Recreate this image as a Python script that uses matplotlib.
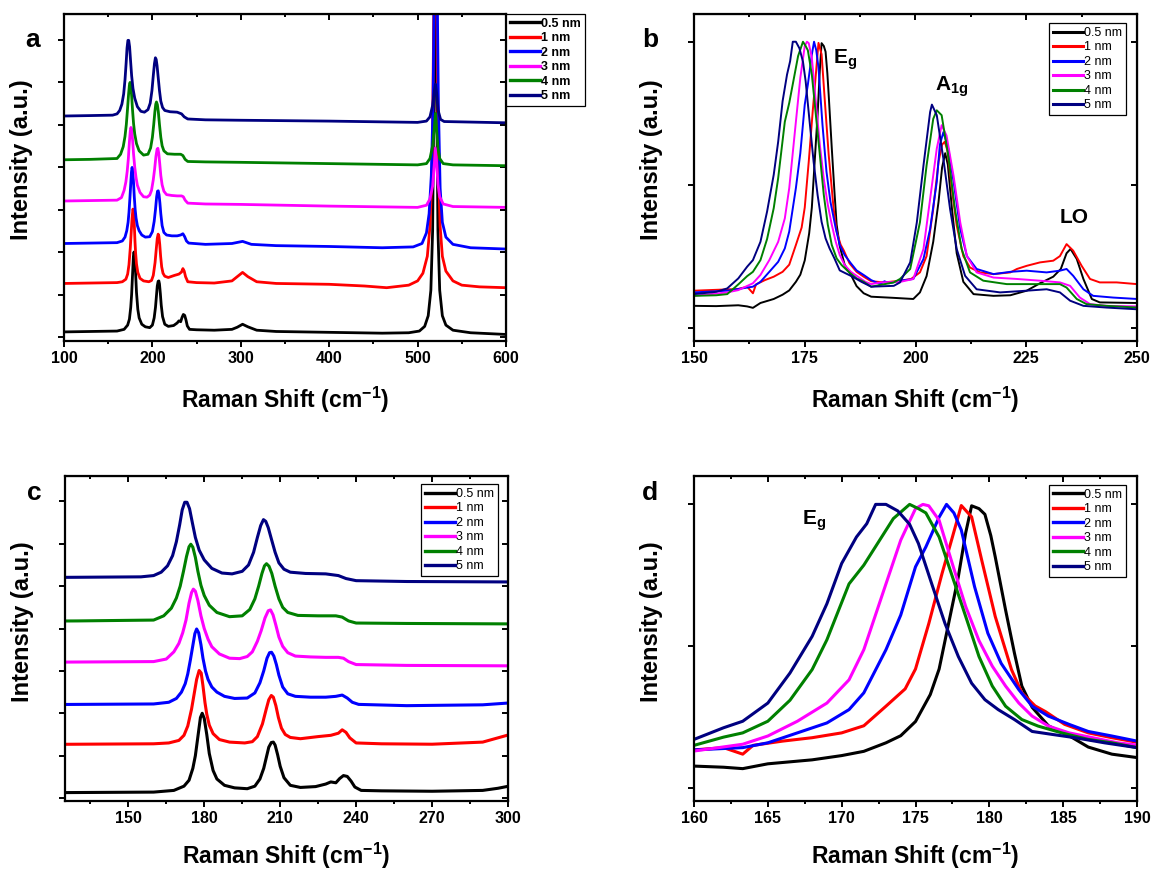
import numpy as np
import matplotlib.pyplot as plt
from matplotlib.ticker import MultipleLocator

plt.rcParams['font.family'] = 'Liberation Sans'
plt.rcParams['mathtext.fontset'] = 'custom'
plt.rcParams['mathtext.rm'] = 'Liberation Sans'
plt.rcParams['mathtext.bf'] = 'Liberation Sans:bold'

thickness = ['0.5 nm', '1 nm', '2 nm', '3 nm', '4 nm', '5 nm']
colors = ['#000000', '#ff0000', '#0000ff', '#ff00ff', '#008000', '#000080']

# stacked raw spectra (panels a and c), (shift, intensity)
raw_05 = [(100, 0.12), (130, 0.13), (160, 0.14), (168, 0.18), (172, 0.28), (174, 0.42), (175.5, 0.7),
          (176.5, 1.0), (177.5, 1.45), (178.5, 1.9), (179.2, 2.0), (180, 1.88), (181, 1.5), (182, 1.05),
          (183.5, 0.65), (185, 0.45), (188, 0.3), (192, 0.24), (197, 0.22), (200, 0.28), (202, 0.45),
          (203.5, 0.7), (204.5, 0.95), (205.5, 1.2), (206.5, 1.31), (207.3, 1.32), (208, 1.25), (209, 1.02),
          (210, 0.75), (211.5, 0.48), (214, 0.3), (218, 0.25), (224, 0.27), (228, 0.33), (230, 0.38),
          (232, 0.36), (233.5, 0.46), (235, 0.53), (236.5, 0.51), (238, 0.4), (239.5, 0.26), (242, 0.18),
          (250, 0.17), (270, 0.16), (290, 0.18), (296, 0.23), (302, 0.3), (308, 0.24), (318, 0.16),
          (340, 0.13), (400, 0.11), (460, 0.09), (490, 0.1), (502, 0.14), (508, 0.25), (512, 0.5),
          (515, 1.1), (517, 2.5), (518.5, 6), (520, 11), (521.5, 6), (523, 2.5), (525, 1.1), (528, 0.5),
          (532, 0.28), (540, 0.16), (560, 0.1), (600, 0.06)]
raw_1 = [(100, 1.26), (130, 1.27), (160, 1.28), (166, 1.3), (170, 1.36), (172, 1.48), (173.5, 1.7),
         (175, 2.1), (176, 2.45), (177, 2.8), (178, 3.01), (178.8, 2.95), (179.5, 2.65), (180.3, 2.25),
         (181, 1.98), (182, 1.72), (183.5, 1.52), (186, 1.38), (190, 1.32), (196, 1.3), (199, 1.33),
         (201, 1.45), (203, 1.75), (204.5, 2.1), (205.5, 2.32), (206.5, 2.42), (207.3, 2.38), (208.3, 2.18),
         (209.3, 1.9), (210.5, 1.65), (212, 1.5), (214, 1.43), (218, 1.4), (225, 1.45), (230, 1.48),
         (233, 1.53), (234.5, 1.61), (236, 1.55), (237.5, 1.42), (240, 1.3), (250, 1.28), (270, 1.27),
         (290, 1.32), (296, 1.42), (302, 1.52), (308, 1.42), (318, 1.3), (340, 1.26), (400, 1.24),
         (440, 1.2), (465, 1.16), (490, 1.22), (500, 1.32), (506, 1.5), (511, 1.9), (514, 2.6),
         (516.5, 4), (518.5, 8), (520, 13), (521.5, 8), (523.5, 4), (525.5, 2.6), (528, 1.9),
         (532, 1.55), (540, 1.32), (550, 1.22), (570, 1.18), (600, 1.16)]
raw_2 = [(100, 2.2), (130, 2.21), (160, 2.22), (166, 2.26), (169, 2.35), (171, 2.5), (172.5, 2.7),
         (173.5, 2.93), (174.5, 3.25), (175.5, 3.6), (176.3, 3.88), (177, 3.99), (177.8, 3.9),
         (178.7, 3.62), (179.5, 3.3), (180.5, 3.0), (181.5, 2.8), (183, 2.62), (185, 2.5), (188, 2.4),
         (192, 2.35), (197, 2.36), (200, 2.48), (202, 2.72), (203.5, 3.0), (204.8, 3.3), (205.8, 3.43),
         (206.6, 3.44), (207.5, 3.35), (208.5, 3.15), (209.5, 2.9), (211, 2.62), (213, 2.46), (216, 2.4),
         (222, 2.38), (228, 2.38), (232, 2.4), (234.5, 2.43), (236.5, 2.36), (238.5, 2.26), (241, 2.21),
         (260, 2.18), (290, 2.2), (302, 2.25), (312, 2.18), (340, 2.15), (400, 2.13), (460, 2.1),
         (495, 2.12), (505, 2.2), (510, 2.45), (513, 2.9), (515.5, 3.8), (517.5, 5.5), (519, 8.5),
         (520.5, 12), (522, 8.5), (523.5, 5.5), (525.5, 3.5), (528, 2.7), (532, 2.35), (540, 2.18),
         (560, 2.1), (600, 2.07)]
raw_3 = [(100, 3.2), (130, 3.21), (160, 3.22), (165, 3.28), (168, 3.45), (170, 3.65), (171.5, 3.9),
         (172.8, 4.2), (174, 4.6), (175, 4.85), (175.7, 4.93), (176.5, 4.88), (177.5, 4.66), (178.7, 4.3),
         (180, 4.0), (181.5, 3.75), (183, 3.57), (186, 3.4), (190, 3.3), (194, 3.29), (197, 3.34),
         (199, 3.45), (201, 3.7), (202.5, 3.95), (204, 4.25), (205.3, 4.42), (206.2, 4.44), (207.2, 4.32),
         (208.3, 4.08), (209.5, 3.8), (211, 3.58), (213, 3.43), (216, 3.35), (222, 3.33), (228, 3.32),
         (233, 3.32), (235, 3.3), (237, 3.22), (240, 3.15), (260, 3.13), (300, 3.12), (400, 3.08),
         (500, 3.05), (510, 3.1), (514, 3.25), (517, 3.55), (519, 4.1), (520.2, 4.45), (521.5, 4.1),
         (523, 3.6), (525, 3.3), (529, 3.13), (540, 3.07), (600, 3.05)]
raw_4 = [(100, 4.17), (130, 4.18), (160, 4.2), (164, 4.3), (167, 4.48), (169, 4.72), (170.5, 5.0),
         (171.8, 5.35), (173, 5.7), (174, 5.93), (174.7, 5.99), (175.5, 5.92), (176.5, 5.68), (177.5, 5.35),
         (178.7, 5.02), (180, 4.78), (182, 4.55), (185, 4.38), (190, 4.28), (195, 4.3), (198, 4.45),
         (200, 4.7), (201.5, 5.0), (202.8, 5.3), (203.8, 5.48), (204.6, 5.53), (205.6, 5.47), (206.7, 5.3),
         (208, 5.0), (209.5, 4.7), (211, 4.5), (213, 4.38), (217, 4.31), (225, 4.3), (232, 4.3),
         (234.5, 4.27), (237, 4.18), (240, 4.13), (260, 4.12), (300, 4.11), (400, 4.08), (500, 4.05),
         (510, 4.08), (514, 4.2), (517, 4.5), (519, 4.95), (520.2, 5.26), (521.5, 4.9), (523, 4.45),
         (525, 4.2), (529, 4.08), (540, 4.05), (600, 4.03)]
raw_5 = [(100, 5.2), (130, 5.21), (155, 5.22), (160, 5.25), (163, 5.33), (165.5, 5.48), (167.5, 5.72),
         (169, 6.05), (170.3, 6.45), (171.3, 6.8), (172.3, 6.98), (173.2, 6.98), (174.2, 6.83), (175.3, 6.5),
         (176.5, 6.15), (178, 5.85), (180, 5.62), (183, 5.42), (187, 5.31), (191, 5.29), (195, 5.35),
         (197.5, 5.5), (199.5, 5.8), (201, 6.15), (202.3, 6.43), (203.4, 6.57), (204.3, 6.53), (205.3, 6.38),
         (206.5, 6.12), (208, 5.8), (209.5, 5.55), (211.5, 5.4), (214, 5.33), (220, 5.3), (228, 5.29),
         (233, 5.25), (236, 5.18), (240, 5.13), (260, 5.11), (300, 5.1), (400, 5.08), (500, 5.05),
         (510, 5.08), (514, 5.18), (517, 5.45), (519, 5.8), (520.2, 5.95), (521.5, 5.75), (523, 5.35),
         (526, 5.12), (530, 5.07), (600, 5.04)]

# normalised spectra (panels b and d)
norm_05 = [(150, 0.076), (155, 0.075), (160, 0.078), (162, 0.074), (163.3, 0.069), (165, 0.086), (168, 0.1),
           (170, 0.115), (171.5, 0.13), (173, 0.16), (174, 0.185), (175, 0.235), (176, 0.33), (176.6, 0.42),
           (177.2, 0.57), (177.9, 0.745), (178.4, 0.9), (178.8, 0.995), (179.3, 0.985), (179.7, 0.965),
           (180.1, 0.89), (180.4, 0.815), (181.1, 0.628), (181.7, 0.476), (182.2, 0.36), (182.9, 0.285),
           (184, 0.22), (185.4, 0.185), (186.7, 0.145), (188.3, 0.12), (190, 0.108), (195, 0.104),
           (199.5, 0.1), (201, 0.123), (202.5, 0.18), (204, 0.3), (205.2, 0.44), (206, 0.56), (206.7, 0.61),
           (207.3, 0.57), (208.2, 0.42), (209.3, 0.26), (210.8, 0.16), (213.1, 0.117), (217.6, 0.111),
           (221.4, 0.113), (225.1, 0.129), (228.1, 0.155), (231.1, 0.178), (232.8, 0.205), (234.1, 0.26),
           (235, 0.275), (236.4, 0.24), (237.9, 0.17), (239.8, 0.1), (241.6, 0.088), (250, 0.086)]
norm_1 = [(150, 0.129), (155, 0.132), (160, 0.135), (162, 0.143), (163.3, 0.12), (164, 0.151), (166, 0.166),
          (168, 0.178), (170, 0.195), (171.5, 0.22), (173, 0.289), (174.3, 0.35), (175, 0.42), (175.9, 0.58),
          (176.8, 0.757), (177.5, 0.885), (178.1, 0.996), (178.8, 0.956), (179.5, 0.8), (180.4, 0.605),
          (181.5, 0.418), (182.2, 0.336), (183.1, 0.29), (183.8, 0.27), (185.1, 0.225), (186.7, 0.195),
          (188.3, 0.178), (190, 0.162), (193, 0.158), (196.6, 0.164), (199, 0.17), (201, 0.193),
          (202.5, 0.25), (204, 0.415), (205.2, 0.58), (206, 0.64), (206.6, 0.65), (207.2, 0.62),
          (208.2, 0.485), (209.3, 0.357), (210.8, 0.25), (212.3, 0.21), (214.6, 0.193), (217.6, 0.187),
          (221.4, 0.193), (222.9, 0.205), (225.1, 0.216), (228.1, 0.228), (231.1, 0.234), (232.6, 0.25),
          (234.1, 0.292), (235.6, 0.269), (237.5, 0.216), (239.4, 0.17), (241.6, 0.158), (245.4, 0.158),
          (250, 0.152)]
norm_2 = [(150, 0.123), (157.5, 0.129), (160, 0.135), (163.3, 0.143), (165, 0.16), (167, 0.195), (169, 0.23),
          (170.5, 0.277), (171.5, 0.336), (173, 0.488), (174, 0.61), (175, 0.78), (175.7, 0.85),
          (176.6, 0.955), (177.1, 1.0), (177.6, 0.97), (178.1, 0.91), (179, 0.71), (179.9, 0.546),
          (180.8, 0.44), (182, 0.347), (182.9, 0.289), (184, 0.254), (185.4, 0.225), (186.7, 0.2),
          (188.3, 0.184), (190, 0.166), (192, 0.152), (193, 0.162), (194, 0.155), (196.6, 0.164),
          (199.5, 0.17), (201.8, 0.24), (203.3, 0.345), (204.8, 0.51), (205.5, 0.64), (206.3, 0.684),
          (207.4, 0.626), (208.6, 0.51), (210.1, 0.345), (211.6, 0.25), (213.8, 0.205), (217.6, 0.187),
          (221.4, 0.195), (225.1, 0.199), (229.6, 0.193), (232.6, 0.199), (234.1, 0.205), (235.6, 0.181),
          (237.9, 0.134), (240.1, 0.111), (244.6, 0.105), (250, 0.1)]
norm_3 = [(150, 0.111), (157.5, 0.123), (160, 0.131), (163.3, 0.155), (165, 0.184), (167, 0.236), (169, 0.3),
          (170.5, 0.382), (171.5, 0.488), (173, 0.72), (174, 0.874), (175, 0.985), (175.5, 1.0),
          (175.9, 0.995), (176.6, 0.944), (177.5, 0.79), (178.4, 0.64), (179.3, 0.52), (180.2, 0.43),
          (181.1, 0.36), (182, 0.3), (182.9, 0.254), (184, 0.219), (185.4, 0.195), (187, 0.178),
          (188.7, 0.16), (190, 0.152), (192.1, 0.158), (196.6, 0.16), (199.5, 0.17), (201.8, 0.275),
          (203.3, 0.45), (204.8, 0.626), (205.9, 0.708), (207, 0.672), (208.6, 0.53), (210.1, 0.368),
          (211.6, 0.25), (213.8, 0.193), (217.6, 0.175), (222.9, 0.17), (228.1, 0.164), (232.6, 0.158),
          (234.9, 0.146), (237.1, 0.105), (239.4, 0.082), (243.1, 0.076), (250, 0.074)]
norm_4 = [(150, 0.111), (155, 0.113), (157.5, 0.117), (160, 0.151), (162, 0.18), (163.3, 0.195), (165, 0.236),
          (166.5, 0.31), (168, 0.418), (169, 0.523), (170.5, 0.72), (171.5, 0.786), (172.5, 0.868),
          (173.5, 0.95), (174.6, 1.0), (175.2, 0.985), (175.7, 0.97), (176.6, 0.885), (177.5, 0.745),
          (178.4, 0.605), (179.3, 0.464), (180.2, 0.36), (181.1, 0.289), (182.2, 0.242), (183.3, 0.219),
          (184.9, 0.195), (186.7, 0.172), (188.3, 0.16), (190, 0.143), (195.1, 0.158), (196.5, 0.17),
          (198.8, 0.205), (201, 0.368), (202.5, 0.567), (204, 0.73), (204.8, 0.76), (205.9, 0.743),
          (207.4, 0.6), (208.9, 0.415), (210.4, 0.275), (212.3, 0.193), (215.3, 0.164), (220.6, 0.152),
          (226.6, 0.152), (232.6, 0.152), (234.1, 0.14), (236.4, 0.1), (238.6, 0.082), (243.1, 0.076),
          (250, 0.07)]
norm_5 = [(150, 0.117), (155, 0.125), (157.5, 0.137), (160, 0.172), (162, 0.213), (163.3, 0.236), (165, 0.3),
          (166.5, 0.406), (168, 0.535), (169, 0.65), (170, 0.792), (171, 0.885), (171.7, 0.932),
          (172.3, 1.0), (173, 1.0), (173.8, 0.977), (174.6, 0.93), (175.2, 0.862), (176.1, 0.72),
          (177, 0.58), (177.9, 0.464), (178.8, 0.37), (179.7, 0.312), (180.6, 0.277), (181.7, 0.242),
          (182.9, 0.2), (184.2, 0.19), (185.8, 0.178), (187.8, 0.16), (190, 0.143), (195.1, 0.146),
          (196.5, 0.158), (198.8, 0.228), (200.3, 0.368), (201.8, 0.567), (203.3, 0.754), (203.7, 0.78),
          (204.8, 0.743), (206.3, 0.59), (207.8, 0.415), (209.3, 0.275), (211.2, 0.181), (213.8, 0.134),
          (219.1, 0.123), (225.1, 0.129), (229.6, 0.134), (232.6, 0.123), (234.9, 0.094), (237.9, 0.076),
          (243.1, 0.07), (250, 0.064)]

raw_spectra = [raw_05, raw_1, raw_2, raw_3, raw_4, raw_5]
norm_spectra = [norm_05, norm_1, norm_2, norm_3, norm_4, norm_5]

xticks_a = [100, 200, 300, 400, 500, 600]
xticks_b = [150, 175, 200, 225, 250]
xticks_c = [150, 180, 210, 240, 270, 300]
xticks_d = [160, 165, 170, 175, 180, 185, 190]

fig = plt.figure(figsize=(11.52, 8.73), dpi=100)
W, H = 1152, 873


def make_axes(l, t, r, b):
    return fig.add_axes([l / W, 1 - b / H, (r - l) / W, (b - t) / H])


def style(ax, xlim, ylim, xticks, xminor, ystep, xlab_y):
    ax.set_xlim(*xlim)
    ax.set_ylim(*ylim)
    ax.set_xticks(xticks)
    ax.set_xticklabels([str(t) for t in xticks], fontsize=11.5, fontweight='bold')
    ax.xaxis.set_minor_locator(MultipleLocator(xminor))
    ax.yaxis.set_major_locator(MultipleLocator(ystep))
    ax.tick_params(which='major', direction='out', length=4.5, width=1.4, labelleft=False, pad=3)
    ax.tick_params(which='minor', direction='out', length=2.5, width=1.4)
    ax.tick_params(axis='y', which='minor', left=False)
    for s in ax.spines.values():
        s.set_linewidth(1.6)
    top = ax.secondary_xaxis('top')
    top.set_xticks(xticks)
    top.xaxis.set_minor_locator(MultipleLocator(xminor))
    top.tick_params(which='both', direction='in', labeltop=False, width=1.4)
    top.tick_params(which='major', length=4.5)
    top.tick_params(which='minor', length=2.5)
    right = ax.secondary_yaxis('right')
    right.yaxis.set_major_locator(MultipleLocator(ystep))
    right.tick_params(direction='in', labelright=False, length=4.5, width=1.4)
    ax.set_xlabel(r'Raman Shift (cm$^{\mathbf{-1}}$)', fontsize=16.5, fontweight='bold')
    ax.xaxis.set_label_coords(0.5, xlab_y)
    ax.set_ylabel('Intensity (a.u.)', fontsize=17, fontweight='bold')
    ax.yaxis.set_label_coords(-0.07, 0.553)


def add_legend(ax, bold, anchor, loc, lw):
    leg = ax.legend(loc=loc, bbox_to_anchor=anchor, borderaxespad=0, fancybox=False,
                    edgecolor='black', framealpha=1, handlelength=2.4, handletextpad=0.1,
                    labelspacing=0.2, borderpad=0.3,
                    prop={'family': 'Liberation Sans', 'size': 9,
                          'weight': 'bold' if bold else 'normal'})
    leg.get_frame().set_linewidth(0.9)
    for line in leg.get_lines():
        line.set_linewidth(lw)


ax_a = make_axes(64, 14, 506, 341)
ax_b = make_axes(694, 14, 1137, 341)
ax_c = make_axes(65, 476, 508, 801)
ax_d = make_axes(694, 476, 1137, 801)

for ax, spectra, lw in [(ax_a, raw_spectra, 2.0), (ax_c, raw_spectra, 2.2),
                        (ax_b, norm_spectra, 1.4), (ax_d, norm_spectra, 2.2)]:
    for pts, c, lab in zip(spectra, colors, thickness):
        x, y = np.array(pts).T
        ax.plot(x, y, color=c, lw=lw, label=lab, solid_joinstyle='round')

style(ax_a, (100, 600), (-0.094, 7.6), xticks_a, 50, 1, -0.135)
style(ax_c, (125, 300), (-0.07, 7.6), xticks_c, 15, 1, -0.122)
style(ax_b, (150, 250), (-0.047, 1.097), xticks_b, 12.5, 0.5, -0.135)
style(ax_d, (160, 190), (-0.045, 1.1), xticks_d, 2.5, 0.5, -0.122)

add_legend(ax_a, True, (1.0, 1.0), 'upper left', 2.4)
add_legend(ax_b, False, (0.975, 0.972), 'upper right', 2.2)
add_legend(ax_c, False, (0.977, 0.975), 'upper right', 2.4)
add_legend(ax_d, False, (0.975, 0.973), 'upper right', 2.4)

ax_b.text(181.3, 0.924, r'$\mathbf{E}_{\mathbf{g}}$', fontsize=15, va='baseline')
ax_b.text(204.5, 0.828, r'$\mathbf{A}_{\mathbf{1g}}$', fontsize=15, va='baseline')
ax_b.text(232.5, 0.365, 'LO', fontsize=15, fontweight='bold', va='baseline')
ax_d.text(167.3, 0.93, r'$\mathbf{E}_{\mathbf{g}}$', fontsize=15, va='baseline')

for letter, px, py in [('a', 33, 47), ('b', 650, 47), ('c', 34, 500), ('d', 650, 500)]:
    fig.text(px / W, 1 - py / H, letter, fontsize=19, fontweight='bold', ha='center', va='baseline')

fig.savefig('out.png', dpi=100)
